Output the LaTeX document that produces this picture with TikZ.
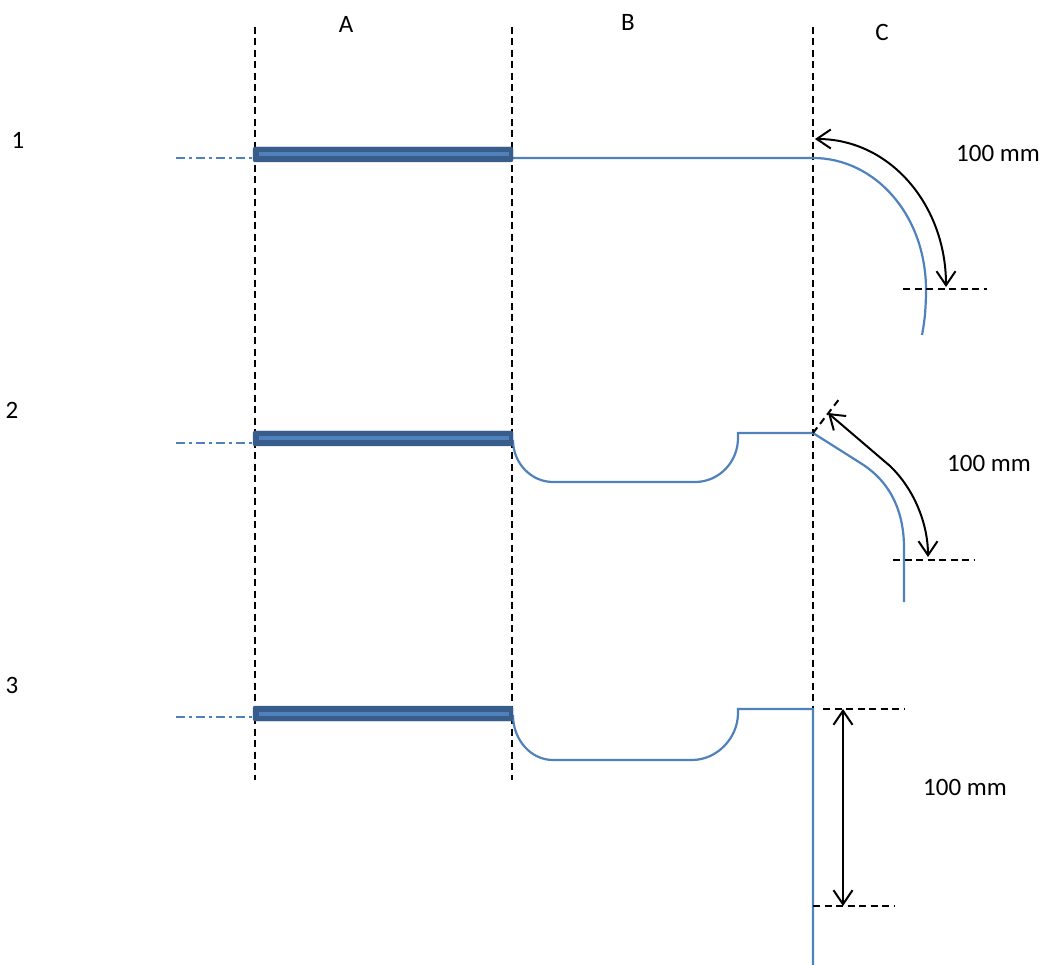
\documentclass[tikz,border=0pt]{standalone}
\usepackage{fontspec}
\setmainfont{Carlito}
\usetikzlibrary{arrows.meta}
\definecolor{barblue}{HTML}{385D8A}
\definecolor{lineblue}{HTML}{4F81BD}
\begin{document}
\begin{tikzpicture}
      [
        x = 1pt, y = -1pt,
        every node/.style = {font=\fontsize{25}{29}\selectfont, inner sep=0pt},
        guide/.style = {black, line width=2pt, dash pattern=on 7pt off 4.5pt},
        axisline/.style = {lineblue, line width=2pt, dash pattern=on 9pt off 4pt on 3pt off 4pt},
        bent/.style = {lineblue, line width=2.2pt},
        barbox/.style = {fill=barblue, draw=barblue, rounded corners=2pt},
        barstripe/.style = {lineblue, line width=4pt},
        measure/.style = {black, line width=2pt, {Straight Barb[length=14pt,width=19pt]}-{Straight Barb[length=14pt,width=19pt]}},
      ]

      \useasboundingbox (0,0) rectangle (1045,965);

      \node (lblA) at (346,24) {A};
      \node (lblB) at (628,22) {B};
      \node (lblC) at (882,32) {C};

      \node (row1) at (18,140) {1};
      \node (row2) at (12,410) {2};
      \node (row3) at (12,685) {3};

      \draw[guide] (255,27) -- (255,780);
      \draw[guide] (512,27) -- (512,780);
      \draw[guide] (813,27) -- (813,965);

      \draw[axisline] (176,158) -- (255,158);
      \draw[axisline] (176,443) -- (255,443);
      \draw[axisline] (176,717) -- (255,717);

      \draw[bent] (512,158) -- (813,158)
        .. controls (875,158) and (926,215) .. (926,290)
        .. controls (926,305) and (925,320) .. (922,335);
      \draw[measure] (815,139) .. controls (890,139) and (946,205) .. (946,287);
      \draw[guide] (903,289) -- (987,289);
      \node (len1) at (998,153) {100 mm};

      \draw[bent] (513,440) .. controls (513,463) and (531,482) .. (553,482)
        -- (695,482) .. controls (719,482) and (738,462) .. (738,438)
        -- (738,433) -- (813,433) -- (862,464)
        .. controls (893,484) and (904,515) .. (904,548) -- (904,602);
      \draw[guide] (813,433) -- (840,398);
      \draw[measure] (828,413) -- (890,466) .. controls (915,490) and (928,525) .. (928,557);
      \draw[guide] (893,560) -- (975,560);
      \node (len2) at (989,463) {100 mm};

      \draw[bent] (513,715) .. controls (513,740) and (531,760) .. (553,760)
        -- (692,760) .. controls (717,760) and (738,738) .. (738,713)
        -- (738,709) -- (813,709) -- (813,965);
      \draw[guide] (823,709) -- (905,709);
      \draw[guide] (813,906) -- (895,906);
      \draw[measure] (843,709) -- (843,906);
      \node (len3) at (965,787) {100 mm};

      \draw[barbox] (253,147) rectangle (513,162);
      \draw[barstripe] (259,154.5) -- (509,154.5);
      \draw[barbox] (253,431) rectangle (513,446);
      \draw[barstripe] (259,438.5) -- (509,438.5);
      \draw[barbox] (253,706) rectangle (513,721);
      \draw[barstripe] (259,713.5) -- (509,713.5);
    \end{tikzpicture}
\end{document}
